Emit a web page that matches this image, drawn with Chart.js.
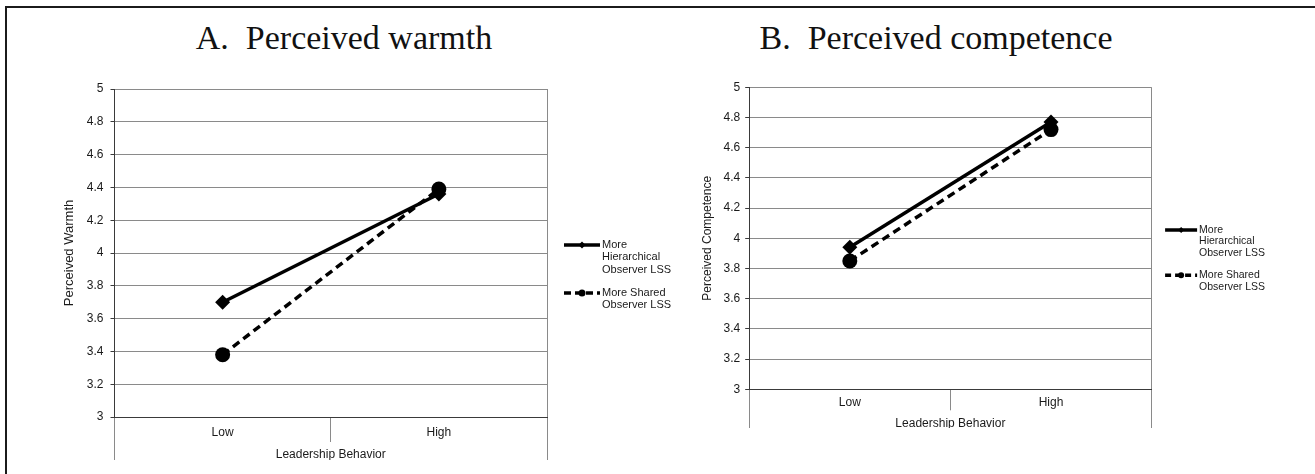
<!DOCTYPE html>
<html>
<head>
<meta charset="utf-8">
<title>Perceived warmth and competence</title>
<script src="https://cdn.jsdelivr.net/npm/chart.js@4.4.1/dist/chart.umd.min.js"></script>
<style>
  html, body { margin: 0; padding: 0; background: #fff; }
  body { width: 1315px; height: 474px; position: relative; overflow: hidden; }
  .frame { position: absolute; left: 5px; top: 6px; width: 1330px; height: 480px;
           border-top: 2px solid #1b1b1b; border-left: 2px solid #1b1b1b; }
  .panel-title { position: absolute; top: 21px; width: 600px; color: #111; text-align: center;
                 font: 34px/34px "Liberation Serif", "Times New Roman", serif; white-space: pre; }
  canvas { position: absolute; }
</style>
</head>
<body>
<div class="frame"></div>
<div class="panel-title" style="left:44px">A.  Perceived warmth</div>
<div class="panel-title" style="left:636px">B.  Perceived competence</div>
<canvas id="warmth" width="660" height="400" style="left:20px;top:60px"></canvas>
<canvas id="competence" width="630" height="368" style="left:680px;top:60px"></canvas>

<script>
// data
var categories = ['Low', 'High'];
var yTicks = [3, 3.2, 3.4, 3.6, 3.8, 4, 4.2, 4.4, 4.6, 4.8, 5];
var seriesNames = ['More Hierarchical Observer LSS', 'More Shared Observer LSS'];
var legendLines = [['More', 'Hierarchical', 'Observer LSS'], ['More Shared', 'Observer LSS']];

// A. Perceived warmth
var warmthHierarchical = [3.70, 4.36];
var warmthShared = [3.38, 4.39];

// B. Perceived competence
var competenceHierarchical = [3.94, 4.77];
var competenceShared = [3.85, 4.72];

var gridGray = '#8a8a8a';
var axisDark = '#3a3a3a';
var textColor = '#1a1a1a';
var clear = 'rgba(0,0,0,0)';

Chart.defaults.font.family = '"Liberation Sans", Arial, sans-serif';
Chart.defaults.color = textColor;

// Excel style legend to the right of the plot, text wrapped on several lines
var legendPlugin = {
    id: 'lssLegend',
    afterDraw: function(chart, args, opts){
        var ctx = chart.ctx;
        var area = chart.chartArea;
        var x0 = area.right + opts.gap;
        var x1 = x0 + opts.lineLength;
        var y = (area.top + area.bottom) / 2 + opts.offsetY;
        ctx.save();
        ctx.font = opts.fontSize + 'px "Liberation Sans", Arial, sans-serif';
        ctx.textBaseline = 'middle';
        ctx.textAlign = 'left';
        chart.data.datasets.forEach(function(ds, i){
            ctx.strokeStyle = ds.borderColor;
            ctx.lineWidth = opts.lineWidth;
            ctx.setLineDash(ds.borderDash.length ? opts.dash : []);
            ctx.beginPath();
            ctx.moveTo(x0, y);
            ctx.lineTo(x1, y);
            ctx.stroke();
            ctx.setLineDash([]);
            ctx.fillStyle = ds.pointBackgroundColor;
            if (Chart.helpers && Chart.helpers.drawPoint){
                Chart.helpers.drawPoint(ctx, {pointStyle: ds.pointStyle, radius: opts.markerRadius, borderWidth: 0, rotation: 0}, (x0 + x1) / 2, y);
            }
            ctx.fillStyle = textColor;
            legendLines[i].forEach(function(t, j){
                ctx.fillText(t, x1 + 2, y + j * opts.lineHeight);
            });
            y += legendLines[i].length * opts.lineHeight + opts.itemGap;
        });
        ctx.restore();
    }
};

function MakeDatasets(hierarchical, shared){
    return [{
        label: seriesNames[0],
        data: hierarchical,
        xAxisID: 'x',
        yAxisID: 'y',
        borderColor: '#000',
        borderWidth: 3.5,
        borderDash: [],
        pointStyle: 'rectRot',
        pointRadius: 7.5,
        pointBackgroundColor: '#000',
        pointBorderColor: '#000',
        pointBorderWidth: 0,
        tension: 0
    }, {
        label: seriesNames[1],
        data: shared,
        xAxisID: 'x',
        yAxisID: 'y',
        borderColor: '#000',
        borderWidth: 3.5,
        borderDash: [8, 5],
        pointStyle: 'circle',
        pointRadius: 7.5,
        pointBackgroundColor: '#000',
        pointBorderColor: '#000',
        pointBorderWidth: 0,
        tension: 0
    }];
}

function MakeChart(id, hierarchical, shared, yTitle, L){
    var ctx = document.getElementById(id).getContext('2d');
    return new Chart(ctx, {
        type: 'line',
        data: {
            labels: categories,
            datasets: MakeDatasets(hierarchical, shared)
        },
        plugins: [legendPlugin],
        options: {
            responsive: false,
            animation: false,
            layout: { padding: L.padding },
            plugins: {
                legend: { display: false },
                title: { display: false },
                tooltip: { enabled: false },
                lssLegend: L.legend
            },
            scales: {
                x: {
                    type: 'category',
                    offset: true,
                    grid: {
                        offset: true,
                        drawOnChartArea: true,
                        color: function(c){ return c.index === 1 ? clear : gridGray; },
                        lineWidth: 1,
                        tickLength: L.tickLength,
                        tickColor: gridGray
                    },
                    border: { display: true, color: axisDark, width: 1 },
                    ticks: { padding: L.labelPad, font: { size: 12 }, color: textColor },
                    title: {
                        display: true,
                        text: 'Leadership Behavior',
                        font: { size: 12 },
                        color: textColor,
                        padding: { top: 0, bottom: L.xTitlePad }
                    },
                    afterFit: function(s){ s.height = L.xHeight; }
                },
                // long outer edges of the category box below the plot
                xFrame: {
                    type: 'category',
                    labels: categories,
                    position: 'bottom',
                    offset: true,
                    weight: -1,
                    grid: {
                        offset: true,
                        drawOnChartArea: false,
                        tickLength: L.xHeight,
                        tickColor: function(c){ return c.index === 1 ? clear : gridGray; }
                    },
                    border: { display: false },
                    ticks: { display: false },
                    afterFit: function(s){ s.height = 0; }
                },
                y: {
                    min: 3,
                    max: 5,
                    afterBuildTicks: function(s){
                        s.ticks = yTicks.map(function(v){ return { value: v }; });
                    },
                    grid: { color: gridGray, lineWidth: 1, tickLength: 4, tickColor: axisDark },
                    border: { display: true, color: axisDark, width: 1 },
                    ticks: {
                        padding: L.yLabelPad,
                        font: { size: 12 },
                        color: textColor,
                        callback: function(v){ return String(Math.round(v * 10) / 10); }
                    },
                    title: {
                        display: true,
                        text: yTitle,
                        font: { size: L.yTitleSize },
                        color: textColor,
                        padding: { top: L.yTitlePad, bottom: 0 }
                    },
                    afterFit: function(s){ s.width = L.yWidth; }
                }
            }
        }
    });
}

var warmthChart = MakeChart('warmth', warmthHierarchical, warmthShared, 'Perceived Warmth', {
    padding: { left: 40, top: 29, right: 133, bottom: 0 },
    yWidth: 54.5,
    xHeight: 43,
    tickLength: 25,
    labelPad: -16.2,
    xTitlePad: -2.2,
    yTitlePad: 1.5,
    yTitleSize: 13,
    yLabelPad: 7,
    legend: { gap: 17, lineLength: 36, offsetY: -8, lineHeight: 12.4, itemGap: 10.8,
              fontSize: 11, lineWidth: 3.5, dash: [7, 4], markerRadius: 3.5 }
});

var competenceChart = MakeChart('competence', competenceHierarchical, competenceShared, 'Perceived Competence', {
    padding: { left: 18, top: 27.3, right: 158.4, bottom: 0 },
    yWidth: 51.2,
    xHeight: 38.7,
    tickLength: 21,
    labelPad: -14.5,
    xTitlePad: -3.2,
    yTitlePad: 2,
    yTitleSize: 12,
    yLabelPad: 5,
    legend: { gap: 13.5, lineLength: 32, offsetY: -8.3, lineHeight: 11.6, itemGap: 10.4,
              fontSize: 10.5, lineWidth: 3.5, dash: [6, 4], markerRadius: 3 }
});
</script>
</body>
</html>
